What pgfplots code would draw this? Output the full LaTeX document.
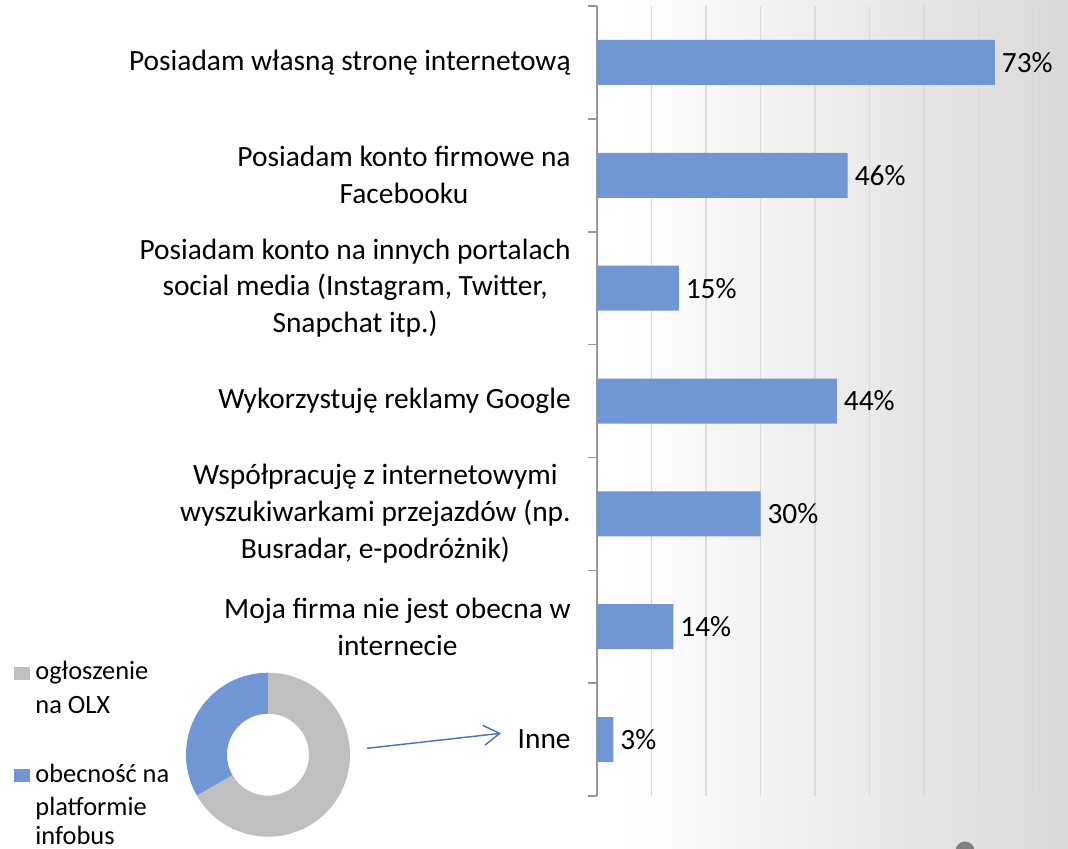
\documentclass[border=0pt]{standalone}
\usepackage{pgfplots}
\pgfplotsset{compat=1.18}
\usepackage{fontspec}
\setmainfont{Carlito}
\usetikzlibrary{arrows.meta}

\definecolor{barblue}{RGB}{112,151,212}
\definecolor{donutgray}{RGB}{191,191,191}
\definecolor{gridgray}{RGB}{217,217,217}
\definecolor{axisgray}{RGB}{150,150,150}
\definecolor{arrowblue}{RGB}{76,110,190}

% donut shares
\def\olx{2}
\def\infobus{1}

\newcommand{\lblfont}{\fontsize{14.7}{18.4}\selectfont}
\newcommand{\legfont}{\fontsize{13.2}{16}\selectfont}

\begin{document}
\begin{tikzpicture}
\pgfmathsetmacro{\splitang}{90+360*\infobus/(\infobus+\olx)}
\begin{scope}
\clip (0,0) rectangle (534pt,-424.5pt);
% slide background: white, greying towards the right edge
\fill[white] (0,0) rectangle (534pt,-424.5pt);
\shade[left color=white, right color=black!15] (310pt,0) rectangle (534pt,-424.5pt);

% main bar chart
\begin{axis}[
    at={(298.5pt,-398pt)}, anchor=south west,
    scale only axis,
    width=218pt, height=395pt,
    xbar, bar width=22.5pt,
    xmin=0, xmax=80,
    ymin=-0.5, ymax=6.5, y dir=reverse,
    axis line style={draw=none},
    xtick={0,10,...,80}, xticklabels={},
    xmajorgrids, grid style={gridgray, line width=0.7pt},
    xtick style={draw=none},
    ytick={0,...,6},
    yticklabels={
        Posiadam własną stronę internetową,
        {Posiadam konto firmowe na\\Facebooku},
        {Posiadam konto na innych portalach\\social media (Instagram, Twitter,\\Snapchat itp.)},
        Wykorzystuję reklamy Google,
        {Współpracuję z internetowymi\\wyszukiwarkami przejazdów (np.\\Busradar, e-podróżnik)},
        {Moja firma nie jest obecna w\\internecie},
        Inne},
    major tick length=0pt,
    minor ytick={-0.5,0.5,...,6.5},
    minor tick length=4.5pt,
    tick align=outside,
    ytick pos=left,
    minor y tick style={axisgray, line width=0.8pt},
    yticklabel style={align=center, font=\lblfont, inner sep=0pt, xshift=-13pt},
    point meta=x,
    nodes near coords={\pgfmathprintnumber[assume math mode=true]{\pgfplotspointmeta}\%},
    nodes near coords style={font=\lblfont, anchor=west, xshift=0pt},
    clip=false,
]
\addplot[fill=barblue, draw=none] coordinates {
    (73,0) (46,1) (15,2) (44,3) (30,4) (14,5) (3,6)
};
\draw[axisgray, line width=0.8pt] (rel axis cs:0,0) -- (rel axis cs:0,1);
\end{axis}

% donut
\begin{axis}[
    at={(134pt,-377.35pt)}, anchor=center,
    scale only axis, width=82pt, height=82pt,
    xmin=-1, xmax=1, ymin=-1, ymax=1,
    hide axis, clip=false,
]
\fill[barblue] (0,1) arc[start angle=90, end angle=\splitang, radius=1]
    -- ({0.5*cos(\splitang)},{0.5*sin(\splitang)})
    arc[start angle=\splitang, end angle=90, radius=0.5] -- cycle;
\fill[donutgray] ({cos(\splitang)},{sin(\splitang)}) arc[start angle=\splitang, end angle=450, radius=1]
    -- (0,0.5) arc[start angle=450, end angle=\splitang, radius=0.5] -- cycle;
\end{axis}

\begin{scope}[x=0.5pt, y=-0.5pt]
% donut legend
\fill[donutgray] (14,667) rectangle (30,680);
\fill[barblue] (14,769) rectangle (30,782);
\node[anchor=base west, inner sep=0pt, font=\legfont] at (35,679.5) {ogłoszenie};
\node[anchor=base west, inner sep=0pt, font=\legfont] at (35,713) {na OLX};
\node[anchor=base west, inner sep=0pt, font=\legfont] at (35,782) {obecność na};
\node[anchor=base west, inner sep=0pt, font=\legfont] at (35,815) {platformie};
\node[anchor=base west, inner sep=0pt, font=\legfont] at (35,844.5) {infobus};
% arrow to "Inne"
\draw[arrowblue, line width=0.7pt, -{Straight Barb[length=8pt, width=10pt]}] (367,748.3) -- (501,733.3);
% slide decoration
\fill[black!50] (965,851) circle[radius=9.5];
\end{scope}
\end{scope}
\pgfresetboundingbox
\useasboundingbox (0,0) rectangle (534pt,-424.5pt);
\end{tikzpicture}
\end{document}
